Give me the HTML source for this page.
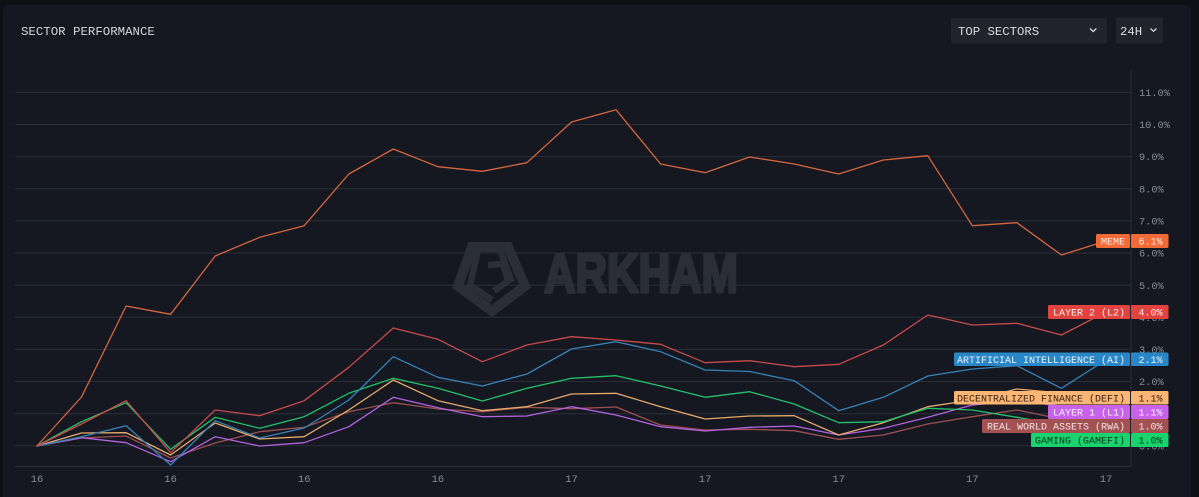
<!DOCTYPE html>
<html>
<head>
<meta charset="utf-8">
<style>
  html, body { margin: 0; padding: 0; background: #0e1015; }
  body { width: 1199px; height: 497px; overflow: hidden; }
  svg { display: block; }
  .mono { font-family: "Liberation Mono", "DejaVu Sans Mono", monospace; }
</style>
</head>
<body>
<svg width="1199" height="497" viewBox="0 0 1199 497" xmlns="http://www.w3.org/2000/svg">
  <!-- page + card -->
  <rect x="0" y="0" width="1199" height="497" fill="#0e1015"/>
  <rect x="3" y="5" width="1188" height="500" rx="6" fill="#151821"/>

  <!-- title -->
  <text x="21" y="35" class="mono" font-size="12.4" fill="#d4d6db">SECTOR PERFORMANCE</text>

  <!-- dropdowns -->
  <rect x="951" y="18" width="156" height="25.5" rx="2" fill="#21242d"/>
  <text x="958" y="35" class="mono" font-size="12.3" fill="#d8dadf">TOP SECTORS</text>
  <polyline points="1090,28.5 1093.2,31.5 1096.4,28.5" fill="none" stroke="#d8dadf" stroke-width="1.3"/>
  <rect x="1116" y="17.5" width="47" height="26" rx="2" fill="#21242d"/>
  <text x="1120" y="35" class="mono" font-size="12.3" fill="#d8dadf">24H</text>
  <polyline points="1150.5,28.5 1153.5,31.3 1156.5,28.5" fill="none" stroke="#d8dadf" stroke-width="1.2"/>

  <!-- watermark -->
  <g fill="none" stroke="#2b2e36" stroke-width="10" stroke-linejoin="miter">
    <polygon points="472,247 508,247 525,286 492,311 458,286"/>
  </g>
  <g fill="none" stroke="#2b2e36" stroke-width="6.5">
    <polyline points="478,250 470,285 492,300"/>
    <polyline points="500,250 512,282"/>
    <polyline points="488,265 503,264 508,281 494,291"/>
  </g>
  <text x="544" y="292" font-family="'Liberation Sans', Arial, sans-serif" font-weight="900" font-size="55" fill="#2b2e36" stroke="#2b2e36" stroke-width="3.2" stroke-linejoin="round" textLength="194" lengthAdjust="spacingAndGlyphs">ARKHAM</text>

  <!-- gridlines -->
  <g stroke="#2a2e38" stroke-width="1">
    <line x1="15" y1="92.4" x2="1131" y2="92.4"/>
    <line x1="15" y1="124.5" x2="1131" y2="124.5"/>
    <line x1="15" y1="156.6" x2="1131" y2="156.6"/>
    <line x1="15" y1="188.8" x2="1131" y2="188.8"/>
    <line x1="15" y1="220.9" x2="1131" y2="220.9"/>
    <line x1="15" y1="253.0" x2="1131" y2="253.0"/>
    <line x1="15" y1="285.2" x2="1131" y2="285.2"/>
    <line x1="15" y1="317.3" x2="1131" y2="317.3"/>
    <line x1="15" y1="349.4" x2="1131" y2="349.4"/>
    <line x1="15" y1="381.5" x2="1131" y2="381.5"/>
    <line x1="15" y1="413.7" x2="1131" y2="413.7"/>
    <line x1="15" y1="445.8" x2="1131" y2="445.8"/>
    <line x1="15" y1="466.5" x2="1131" y2="466.5"/>
    <line x1="1131" y1="71" x2="1131" y2="466.5"/>
  </g>

  <!-- right axis labels -->
  <g class="mono" font-size="10.3" fill="#878c96">
    <text x="1139" y="96">11.0%</text>
    <text x="1139" y="128">10.0%</text>
    <text x="1139" y="160.2">9.0%</text>
    <text x="1139" y="192.4">8.0%</text>
    <text x="1139" y="224.5">7.0%</text>
    <text x="1139" y="256.6">6.0%</text>
    <text x="1139" y="288.8">5.0%</text>
    <text x="1139" y="320.9">4.0%</text>
    <text x="1139" y="353">3.0%</text>
    <text x="1139" y="385.1">2.0%</text>
    <text x="1139" y="417.3">1.0%</text>
    <text x="1139" y="449.4">0.0%</text>
  </g>

  <!-- x axis labels -->
  <g class="mono" font-size="10.5" fill="#878c96" text-anchor="middle">
    <text x="37" y="482">16</text>
    <text x="170.6" y="482">16</text>
    <text x="304.2" y="482">16</text>
    <text x="437.9" y="482">16</text>
    <text x="571.5" y="482">17</text>
    <text x="705.1" y="482">17</text>
    <text x="838.7" y="482">17</text>
    <text x="972.3" y="482">17</text>
    <text x="1106" y="482">17</text>
  </g>

  <!-- series -->
  <g fill="none" stroke-width="1.3" stroke-linejoin="round" stroke-linecap="round">
    <polyline stroke="#9a5050" points="37,446 81.5,438 126.1,436 170.6,458 215.2,443 259.7,431.7 304.2,427.3 348.8,411.7 393.3,402.7 437.9,409 482.4,411.7 526.9,407.3 571.5,408.7 616,407 660.6,425 705.1,430 749.6,429.3 794.2,430.7 838.7,439.3 883.3,435 927.8,424 972.3,416.7 1016.9,410 1061.4,419 1106,426"/>
    <polyline stroke="#b462df" points="37,446 81.5,437.7 126.1,442.7 170.6,461.7 215.2,436.7 259.7,446 304.2,442.7 348.8,426.7 393.3,397.3 437.9,407.7 482.4,416.7 526.9,416 571.5,406.7 616,415 660.6,426.7 705.1,431 749.6,427.3 794.2,426 838.7,435 883.3,428.3 927.8,417.3 972.3,405 1016.9,401 1061.4,406 1106,411"/>
    <polyline stroke="#e6a96a" points="37,446 81.5,433 126.1,432.7 170.6,455 215.2,423 259.7,439 304.2,436.7 348.8,410 393.3,380 437.9,400.7 482.4,410.7 526.9,406.7 571.5,394 616,393.3 660.6,406.7 705.1,419 749.6,416 794.2,415.7 838.7,435 883.3,422.7 927.8,406.7 972.3,400 1016.9,389 1061.4,393 1106,397"/>
    <polyline stroke="#22c06b" points="37,446 81.5,421.7 126.1,402.7 170.6,449.3 215.2,417.3 259.7,428.3 304.2,416.7 348.8,393.3 393.3,378.3 437.9,388.3 482.4,401 526.9,388.3 571.5,378.3 616,375.7 660.6,386 705.1,397.3 749.6,391.7 794.2,404 838.7,422.7 883.3,421.7 927.8,408.3 972.3,410 1016.9,417.3 1061.4,425 1106,440"/>
    <polyline stroke="#3682b8" points="37,446 81.5,436.7 126.1,425.7 170.6,465 215.2,420.7 259.7,438 304.2,428 348.8,400 393.3,356.7 437.9,377.3 482.4,386 526.9,374 571.5,349 616,341.7 660.6,351.7 705.1,370 749.6,371.5 794.2,380.7 838.7,410.7 883.3,397.3 927.8,376 972.3,369 1016.9,365.7 1061.4,388.3 1106,360"/>
    <polyline stroke="#c84a4a" points="37,446 81.5,424 126.1,400.7 170.6,452.7 215.2,410 259.7,415.7 304.2,400.7 348.8,367.3 393.3,328 437.9,339.3 482.4,361.7 526.9,345 571.5,336.7 616,340 660.6,344.3 705.1,362.7 749.6,360.7 794.2,366.7 838.7,364.3 883.3,345 927.8,315 972.3,325 1016.9,323.3 1061.4,335 1106,312"/>
    <polyline stroke="#d6663e" points="37,446 81.5,397 126.1,306 170.6,314.3 215.2,256 259.7,237.3 304.2,225.7 348.8,174 393.3,149 437.9,166.7 482.4,171.3 526.9,162.7 571.5,122 616,109.7 660.6,164 705.1,172.7 749.6,157 794.2,164 838.7,174 883.3,160 927.8,155.7 972.3,225.7 1016.9,222.7 1061.4,255 1106,241"/>
  </g>

  <!-- end labels -->
  <g class="mono" font-size="10">
    <!-- MEME -->
    <rect x="1096" y="234" width="34" height="14" rx="1.5" fill="#f26a36"/>
    <rect x="1131" y="234" width="37.5" height="14" rx="1.5" fill="#f26a36"/>
    <text x="1125" y="244.5" text-anchor="end" fill="#fff3ec">MEME</text>
    <text x="1162.5" y="244.5" text-anchor="end" fill="#fff3ec">6.1%</text>
    <!-- L2 -->
    <rect x="1048" y="305" width="82" height="14" rx="1.5" fill="#e2433f"/>
    <rect x="1131" y="305" width="37.5" height="14" rx="1.5" fill="#e2433f"/>
    <text x="1125" y="315.5" text-anchor="end" fill="#fff0ef">LAYER 2 (L2)</text>
    <text x="1162.5" y="315.5" text-anchor="end" fill="#fff0ef">4.0%</text>
    <!-- AI -->
    <rect x="954" y="352.5" width="176" height="13.5" rx="1.5" fill="#2a87c7"/>
    <rect x="1131" y="352.5" width="37.5" height="13.5" rx="1.5" fill="#2a87c7"/>
    <text x="1125" y="362.8" text-anchor="end" fill="#eaf4fb">ARTIFICIAL INTELLIGENCE (AI)</text>
    <text x="1162.5" y="362.8" text-anchor="end" fill="#eaf4fb">2.1%</text>
    <!-- DEFI -->
    <rect x="954" y="391" width="176" height="13.5" rx="1.5" fill="#fbb574"/>
    <rect x="1131" y="391" width="37.5" height="13.5" rx="1.5" fill="#fbb574"/>
    <text x="1125" y="401.3" text-anchor="end" fill="#3a2412">DECENTRALIZED FINANCE (DEFI)</text>
    <text x="1162.5" y="401.3" text-anchor="end" fill="#3a2412">1.1%</text>
    <!-- L1 -->
    <rect x="1048" y="405" width="82" height="14" rx="1.5" fill="#c862eb"/>
    <rect x="1131" y="405" width="37.5" height="14" rx="1.5" fill="#c862eb"/>
    <text x="1125" y="415.5" text-anchor="end" fill="#fbeeff">LAYER 1 (L1)</text>
    <text x="1162.5" y="415.5" text-anchor="end" fill="#fbeeff">1.1%</text>
    <!-- RWA -->
    <rect x="982" y="419" width="148" height="14" rx="1.5" fill="#a35151"/>
    <rect x="1131" y="419" width="37.5" height="14" rx="1.5" fill="#a35151"/>
    <text x="1125" y="429.5" text-anchor="end" fill="#f6e6e6">REAL WORLD ASSETS (RWA)</text>
    <text x="1162.5" y="429.5" text-anchor="end" fill="#f6e6e6">1.0%</text>
    <!-- GAMEFI -->
    <rect x="1031" y="433" width="99" height="14" rx="1.5" fill="#19d46e"/>
    <rect x="1131" y="433" width="37.5" height="14" rx="1.5" fill="#19d46e"/>
    <text x="1125" y="443.5" text-anchor="end" fill="#07351a">GAMING (GAMEFI)</text>
    <text x="1162.5" y="443.5" text-anchor="end" fill="#07351a">1.0%</text>
  </g>
</svg>
</body>
</html>
